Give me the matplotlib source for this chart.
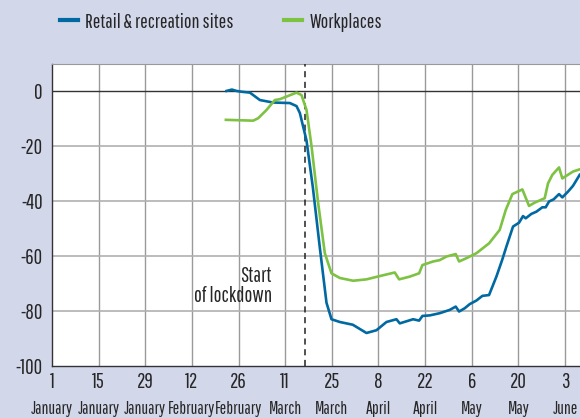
import matplotlib
matplotlib.use("Agg")
import matplotlib.pyplot as plt
import matplotlib.transforms as mtransforms

plt.rcParams['font.family'] = ['Pathway Gothic One', 'DejaVu Sans']

# days since 1 January 2020
retail_days = [52.4, 54, 55.4, 57, 59.4, 62.4, 66.3, 71.4, 73.4, 74.4, 76.4, 78.3, 80.4, 82.4, 83.9,
               86.4, 90.3, 94.4, 97.4, 100.4, 103.4, 104.4, 108.4, 110.2, 111.2, 113.4, 116.4, 119.4,
               121.2, 122.2, 123.9, 125.4, 127.4, 129.2, 131.2, 133.4, 135.2, 136.4, 138.4, 140.2,
               141.4, 142.2, 143.9, 145.4, 147.2, 148.2, 149.2, 150.6, 152.2, 153.2, 154.9, 156.4, 158.4]
retail_vals = [0, 0.5, 0, -0.3, -0.6, -3.3, -4.2, -4.4, -5.5, -8, -18, -35, -57, -77, -83,
               -84, -85, -88, -87, -84, -83, -84.5, -83, -83.5, -81.8, -81.6, -80.8, -79.6,
               -78.4, -80.2, -79, -77.5, -76.2, -74.5, -74.2, -67.5, -61.2, -56.6, -49.3, -47.9,
               -45.5, -46.3, -44.7, -43.9, -42.3, -42.3, -40.2, -39.4, -37.5, -38.7, -36.6, -34.5, -30.5]

work_days = [52.2, 60.4, 61.9, 64.4, 66.9, 68.4, 70.9, 73.4, 74.9, 76.4, 77.9, 79.9, 81.9, 83.9,
             86.4, 90.4, 94.4, 98.4, 102.9, 104.2, 107.4, 110.2, 111.2, 114.4, 116.4, 118.4, 121.2,
             122.2, 124.4, 127.4, 131.2, 134.4, 136.2, 138.2, 141.2, 143.2, 144.9, 147.9, 148.9,
             150.2, 152.2, 153.2, 156.4, 158.4]
work_vals = [-10.5, -10.8, -9.9, -6.9, -3.3, -3.0, -1.8, -0.6, -1.5, -6.9, -20, -40.8, -59, -66.3,
             -68, -69, -68.5, -67.3, -66, -68.5, -67.5, -66.3, -63.3, -62, -61.5, -60.2, -59.3,
             -62, -60.8, -59, -55.4, -50.5, -43.3, -37.5, -35.8, -41.8, -40.6, -39, -33.6,
             -30.5, -27.8, -31.8, -29.3, -28.5]

tick_days = [0, 14, 28, 42, 56, 70, 84, 98, 112, 126, 140, 154]
tick_nums = ['1', '15', '29', '12', '26', '11', '25', '8', '22', '6', '20', '3']
tick_months = ['January', 'January', 'January', 'February', 'February', 'March', 'March',
               'April', 'April', 'May', 'May', 'June']
y_ticks = [0, -20, -40, -60, -80, -100]
lockdown_day = 76

bg = '#D3D7EA'
blue = '#0069A2'
green = '#7DC242'
txt = '#262626'

fig = plt.figure(figsize=(5.8, 4.18), dpi=100, facecolor=bg)
ax = fig.add_axes([52/580, 1-366/418, 1-52/580, (366-64)/418])
ax.set_facecolor('white')

ax.set_xlim(0, 158.5)
ax.set_ylim(-100, 9.8)

for d in tick_days[1:]:
    ax.axvline(d, color='#9a9a9a', lw=1.0, zorder=1)
for v in [-20, -40, -60, -80]:
    ax.axhline(v, color='#b0b0b0', lw=1.2, zorder=1)
ax.axhline(0, color='#333333', lw=1.0, zorder=2)

ax.axvline(lockdown_day, color='#222222', lw=1.1, ls=(0, (4, 3)), zorder=3)

ax.plot(retail_days, retail_vals, color=blue, lw=1.9, zorder=4, label='Retail & recreation sites')
ax.plot(work_days, work_vals, color=green, lw=1.9, zorder=4, label='Workplaces')

ax.set_yticks(y_ticks)
ax.set_yticklabels([str(v) for v in y_ticks], fontsize=15, color=txt)
ax.set_xticks(tick_days)
ax.set_xticklabels(tick_nums, fontsize=15, color=txt)
ax.tick_params(axis='both', length=0)
ax.tick_params(axis='y', pad=6.5)
ax.tick_params(axis='x', pad=4)

trans = mtransforms.blended_transform_factory(ax.transData, fig.transFigure)
for d, m in zip(tick_days, tick_months):
    ax.text(d, 1-414/418, m, transform=trans, ha='center', va='baseline', fontsize=12.5,
            color=txt, clip_on=False)

ax.text(66, -69.3, 'Start', ha='right', va='baseline', fontsize=15, color=txt)
ax.text(66, -76.8, 'of lockdown', ha='right', va='baseline', fontsize=15, color=txt)

for s in ['left', 'bottom']:
    ax.spines[s].set_color('#333333')
    ax.spines[s].set_linewidth(1.0)
ax.spines['top'].set_color('#999999')
ax.spines['right'].set_visible(False)

leg = fig.legend(loc='center left', bbox_to_anchor=(42/580, 1-22/418), ncol=2, frameon=False,
                 fontsize=14.5, handlelength=0.9, handletextpad=0.35, columnspacing=2.5,
                 labelcolor=txt)
for line in leg.get_lines():
    line.set_linewidth(3)

fig.savefig('out.png', dpi=100, facecolor=bg)
